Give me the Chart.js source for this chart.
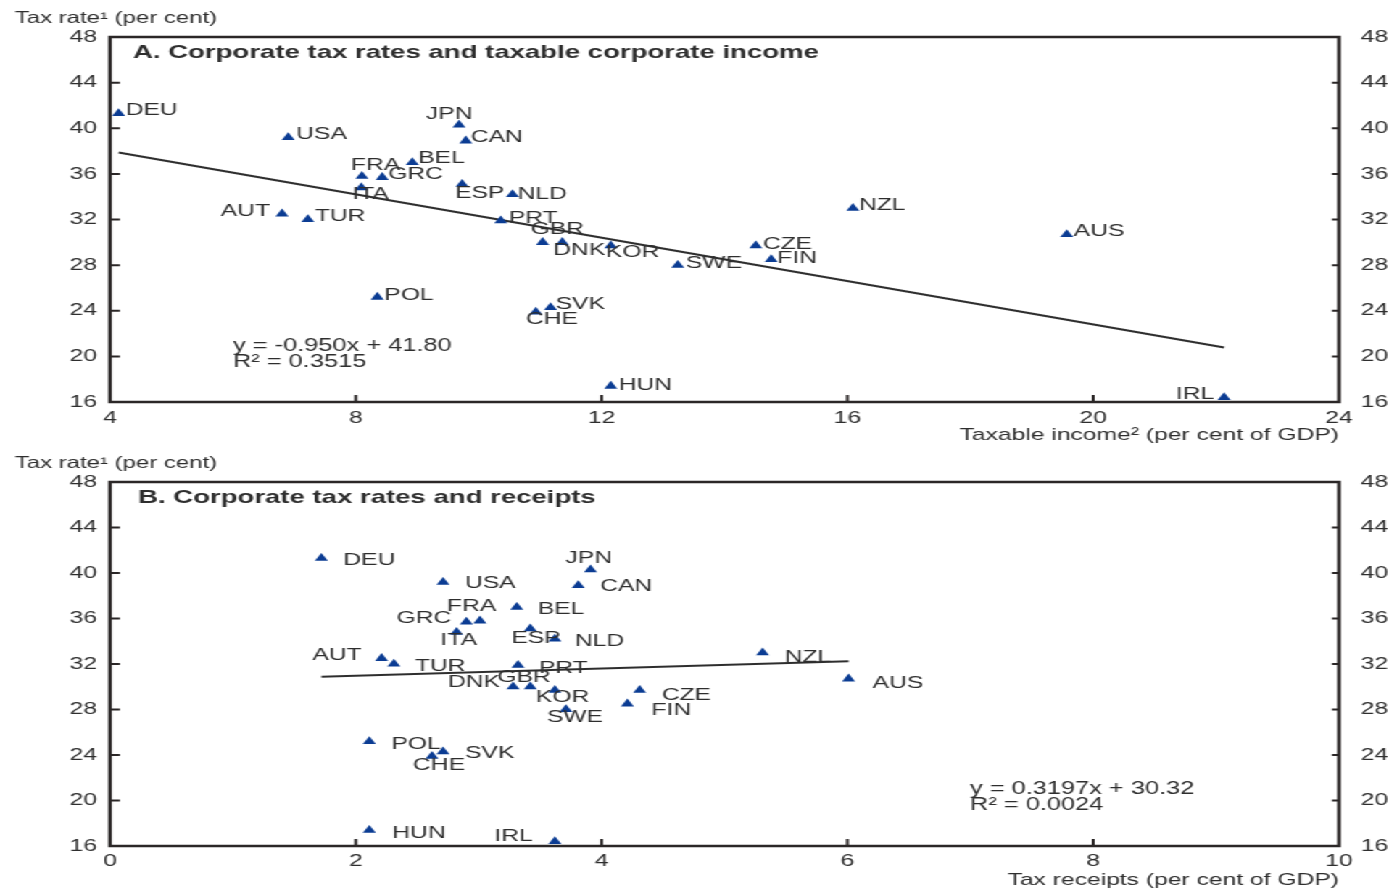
<!DOCTYPE html>
<html>
<head>
<meta charset="utf-8">
<script src="https://cdn.jsdelivr.net/npm/chart.js@4.4.0/dist/chart.umd.min.js"></script>
<style>
  html, body { margin: 0; padding: 0; background: #fff; overflow: hidden; }
  /* the source figure is stretched sideways, so the charts are drawn narrow and widened */
  #wrap { position: absolute; left: 0; top: 0; width: 958px; height: 893px; transform: scaleX(1.44990); transform-origin: 0 0; }
  .panel { position: absolute; left: 0; width: 958px; }
</style>
</head>
<body>
<div id="wrap">
  <div class="panel" style="top:0;height:446px"><canvas id="chartA" width="958" height="446"></canvas></div>
  <div class="panel" style="top:446px;height:447px"><canvas id="chartB" width="958" height="447"></canvas></div>
</div>
<script>
// data
const countries = ["DEU", "USA", "JPN", "CAN", "BEL", "FRA", "GRC", "ITA", "ESP", "NLD", "AUT", "TUR", "PRT",
  "GBR", "DNK", "KOR", "SWE", "CZE", "FIN", "NZL", "AUS", "POL", "SVK", "CHE", "HUN", "IRL"];
const taxRate = [41.3, 39.2, 40.3, 38.9, 37.0, 35.8, 35.7, 34.8, 35.1, 34.2, 32.5, 32.0, 31.9,
  30.0, 30.0, 29.7, 28.0, 29.7, 28.5, 33.0, 30.7, 25.2, 24.3, 23.9, 17.4, 16.4];
const taxableIncome = [4.14, 6.9, 9.68, 9.79, 8.92, 8.1, 8.43, 8.09, 9.73, 10.55, 6.8, 7.22, 10.36,
  11.04, 11.36, 12.15, 13.24, 14.51, 14.76, 16.09, 19.57, 8.35, 11.17, 10.93, 12.15, 22.13];
const taxReceipts = [1.72, 2.71, 3.91, 3.81, 3.31, 3.01, 2.9, 2.82, 3.42, 3.62, 2.21, 2.31, 3.32,
  3.42, 3.28, 3.62, 3.71, 4.31, 4.21, 5.31, 6.01, 2.11, 2.71, 2.62, 2.11, 3.62];
const rateTicks = [16, 20, 24, 28, 32, 36, 40, 44, 48];
const incomeTicks = [4, 8, 12, 16, 20, 24];
const receiptTicks = [0, 2, 4, 6, 8, 10];
const fitA = { slope: -0.950, intercept: 41.80, r2: "0.3515" };
const fitB = { slope: 0.3197, intercept: 30.32, r2: "0.0024" };

// label placement next to each marker, in screen px: [dx, dy, align]
const labelPosA = {
  DEU: [7, -3], USA: [8, -3], JPN: [-33, -11], CAN: [5, -3], BEL: [6, -4], FRA: [-11, -11],
  GRC: [6, -3], ITA: [-9, 7], ESP: [-7, 9], NLD: [5, 0], AUT: [-12, -2, "right"], TUR: [7, -3],
  PRT: [8, -2], GBR: [-12, -13], DNK: [-9, 8], KOR: [-5, 7], SWE: [8, -2], CZE: [7, -1],
  FIN: [6, -1], NZL: [6, -3], AUS: [7, -3], POL: [7, -2], SVK: [5, -3], CHE: [-10, 7],
  HUN: [8, -1], IRL: [-10, -3, "right"]
};
const labelPosB = {
  DEU: [22, 2], USA: [22, 1], JPN: [-25, -11], CAN: [22, 1], BEL: [21, 2], FRA: [-33, -14],
  GRC: [-15, -4, "right"], ITA: [-16, 8], ESP: [-19, 10], NLD: [20, 2], AUT: [-20, -3, "right"],
  TUR: [21, 2], PRT: [21, 3], GBR: [-33, -9], DNK: [-13, -4, "right"], KOR: [-19, 7],
  SWE: [-19, 8], CZE: [22, 5], FIN: [24, 6], NZL: [22, 5], AUS: [24, 5], POL: [22, 3],
  SVK: [22, 2], CHE: [-19, 9], HUN: [23, 3], IRL: [-22, -5, "right"]
};

const SX = 1389 / 958;
const FONT = "'Liberation Sans', Arial, Helvetica, sans-serif";
const TXT = "#2e2e2e";
const INK = "#2b2727";
const MARK = "#0b3c93";

function decor(panel) {
  return {
    id: "decor",
    beforeDatasetsDraw(chart) {
      const { ctx, chartArea: a, scales } = chart;
      ctx.save();
      ctx.strokeStyle = INK;
      ctx.lineWidth = 2;
      scales.y.ticks.forEach(t => {
        if (t.value <= scales.y.min || t.value >= scales.y.max) return;
        const py = scales.y.getPixelForValue(t.value);
        ctx.beginPath();
        ctx.moveTo(a.left, py); ctx.lineTo(a.left + 10 / SX, py);
        ctx.moveTo(a.right, py); ctx.lineTo(a.right - 7 / SX, py);
        ctx.stroke();
      });
      scales.x.ticks.forEach(t => {
        if (t.value <= scales.x.min || t.value >= scales.x.max) return;
        const px = scales.x.getPixelForValue(t.value);
        ctx.beginPath();
        ctx.moveTo(px, a.bottom); ctx.lineTo(px, a.bottom - 7);
        ctx.stroke();
      });
      ctx.lineWidth = 2.5;
      ctx.strokeRect(a.left, a.top, a.width, a.height);
      ctx.restore();
    },
    afterDatasetsDraw(chart) {
      const { ctx } = chart;
      const meta = chart.getDatasetMeta(0);
      ctx.save();
      ctx.fillStyle = TXT;
      ctx.font = "17px " + FONT;
      ctx.textBaseline = "middle";
      meta.data.forEach((pt, i) => {
        const name = countries[i];
        const p = panel.labels[name] || [6, 0];
        ctx.textAlign = p[2] || "left";
        ctx.fillText(name, pt.x + p[0] / SX, pt.y + p[1]);
      });
      ctx.restore();
    },
    afterDraw(chart) {
      const { ctx } = chart;
      ctx.save();
      ctx.fillStyle = TXT;
      ctx.textBaseline = "middle";
      ctx.textAlign = "left";
      ctx.font = "16.5px " + FONT;
      ctx.fillText("Tax rate\u00b9 (per cent)", 15 / SX, panel.headY);
      ctx.font = "bold 19px " + FONT;
      ctx.fillText(panel.title, panel.titleX / SX, panel.titleY);
      ctx.font = "17.5px " + FONT;
      const f = panel.fit;
      const sign = f.slope < 0 ? "-" : "";
      ctx.fillText("y = " + sign + Math.abs(f.slope).toFixed(panel.digits) + "x + " + f.intercept.toFixed(2),
        panel.eqX / SX, panel.eqY);
      ctx.fillText("R\u00b2 = " + f.r2, panel.eqX / SX, panel.eqY + 16);
      ctx.restore();
    }
  };
}

function makeChart(id, panel) {
  const xs = panel.xs;
  const pts = countries.map((c, i) => ({ x: xs[i], y: taxRate[i] }));
  const x0 = Math.min(...xs), x1 = Math.max(...xs);
  const f = panel.fit;
  const trend = [{ x: x0, y: f.slope * x0 + f.intercept }, { x: x1, y: f.slope * x1 + f.intercept }];
  const tickFont = { family: FONT, size: 17 };
  const setTicks = arr => s => { s.ticks = arr.map(v => ({ value: v })); };

  return new Chart(document.getElementById(id), {
    type: "scatter",
    data: {
      datasets: [
        {
          label: "Countries",
          data: pts,
          pointStyle: "triangle",
          pointRadius: 5.2,
          pointHoverRadius: 5.2,
          backgroundColor: MARK,
          borderColor: MARK,
          borderWidth: 0,
          clip: false
        },
        {
          label: "Trend",
          data: trend,
          showLine: true,
          borderColor: "#2e2e2e",
          borderWidth: 2,
          pointRadius: 0,
          fill: false
        }
      ]
    },
    options: {
      responsive: false,
      animation: false,
      devicePixelRatio: 1,
      layout: { padding: { top: panel.top, left: 0, right: 0, bottom: 0 } },
      plugins: { legend: { display: false }, tooltip: { enabled: false } },
      scales: {
        x: {
          type: "linear",
          position: "bottom",
          min: panel.xTicks[0],
          max: panel.xTicks[panel.xTicks.length - 1],
          afterBuildTicks: setTicks(panel.xTicks),
          ticks: { color: TXT, font: tickFont, padding: panel.xPad, maxRotation: 0, autoSkip: false },
          grid: { display: false, drawTicks: false },
          border: { display: false },
          title: {
            display: true,
            text: panel.xTitle,
            align: "end",
            color: TXT,
            font: { family: FONT, size: 17 },
            padding: { top: 0, bottom: panel.titlePad }
          },
          afterFit: s => { s.height = panel.xH; }
        },
        y: {
          type: "linear",
          position: "left",
          min: 16,
          max: 48,
          afterBuildTicks: setTicks(rateTicks),
          ticks: { color: TXT, font: tickFont, padding: 9, autoSkip: false },
          grid: { display: false, drawTicks: false },
          border: { display: false },
          afterFit: s => { s.width = 110 / SX; }
        },
        y2: {
          type: "linear",
          position: "right",
          min: 16,
          max: 48,
          afterBuildTicks: setTicks(rateTicks),
          ticks: { color: TXT, font: tickFont, padding: 15, autoSkip: false },
          grid: { display: false, drawTicks: false },
          border: { display: false },
          afterFit: s => { s.width = 958 - 1339 / SX; }
        }
      }
    },
    plugins: [decor(panel)]
  });
}

makeChart("chartA", {
  xs: taxableIncome,
  xTicks: incomeTicks,
  fit: fitA,
  digits: 3,
  labels: labelPosA,
  top: 37,
  xH: 44,
  xPad: 6,
  titlePad: 0,
  xTitle: "Taxable income\u00b2 (per cent of GDP)",
  title: "A. Corporate tax rates and taxable corporate income",
  titleX: 133, titleY: 53,
  headY: 18,
  eqX: 233, eqY: 346
});

makeChart("chartB", {
  xs: taxReceipts,
  xTicks: receiptTicks,
  fit: fitB,
  digits: 4,
  labels: labelPosB,
  top: 36,
  xH: 47,
  xPad: 5,
  titlePad: 2,
  xTitle: "Tax receipts (per cent of GDP)",
  title: "B. Corporate tax rates and receipts",
  titleX: 138, titleY: 52,
  headY: 17,
  eqX: 970, eqY: 343
});
</script>
</body>
</html>
